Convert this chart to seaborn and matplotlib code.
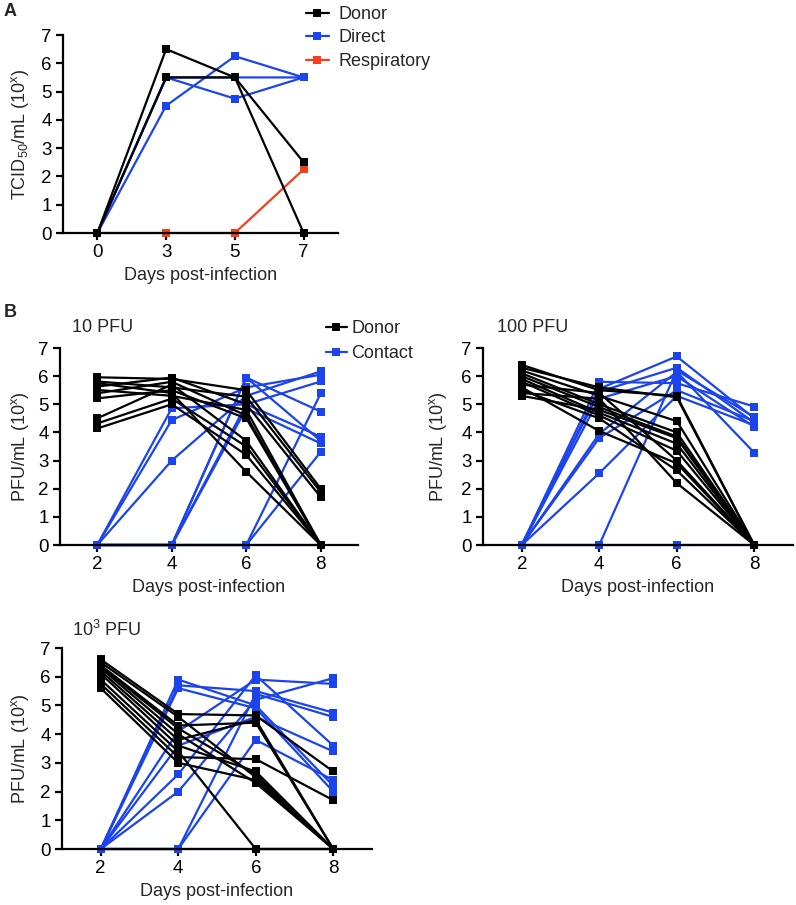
import matplotlib
matplotlib.use('Agg')
import matplotlib.pyplot as plt
import pandas as pd
import seaborn as sns
from matplotlib.lines import Line2D

# ---------------- data ----------------
a_days = ['0', '3', '5', '7']
a_donor = [[0, 6.5, 5.5, 2.5], [0, 5.5, 5.5, 0]]
a_direct = [[0, 4.5, 6.25, 5.5], [0, 5.5, 4.75, 5.5], [0, 5.5, 5.5, 5.5]]
a_resp = [[0, 0, 0, 2.25]]

b_days = [2, 4, 6, 8]

pfu10_donor = [
    [5.96, 5.9, 5.5, 2.0], [5.81, 5.6, 5.27, 1.88], [5.63, 5.95, 5.0, 1.7],
    [5.51, 5.3, 4.8, 0], [5.39, 5.8, 4.6, 0], [5.21, 5.5, 4.5, 0],
    [4.5, 5.7, 3.7, 0], [4.32, 5.2, 3.5, 0], [4.14, 5.0, 3.2, 0],
    [5.75, 5.4, 2.6, 0],
]
pfu10_contact = [
    [0, 4.86, 5.0, 3.85], [0, 4.44, 5.6, 6.05], [0, 3.0, 5.3, 6.17],
    [0, 0, 5.95, 4.74], [0, 0, 5.0, 5.81], [0, 0, 4.85, 3.61],
    [0, 0, 0, 5.39], [0, 0, 0, 3.31], [0, 0, 0, 0], [0, 0, 5.95, 3.7],
]

pfu100_donor = [
    [6.4, 5.5, 5.3, 0], [6.3, 5.6, 5.25, 0], [6.2, 5.3, 4.4, 0],
    [6.1, 5.0, 4.0, 0], [6.0, 4.9, 3.85, 0], [5.9, 4.7, 3.6, 0],
    [5.8, 4.6, 3.35, 0], [5.7, 5.4, 3.0, 0], [5.6, 4.05, 2.9, 0],
    [5.5, 4.5, 2.65, 0], [5.4, 5.2, 2.2, 0], [5.3, 4.8, 3.8, 0],
]
pfu100_contact = [
    [0, 5.8, 5.75, 4.92], [0, 5.55, 6.7, 4.5], [0, 5.45, 6.3, 4.35],
    [0, 5.2, 6.0, 4.2], [0, 3.95, 6.15, 3.28], [0, 3.8, 5.5, 4.4],
    [0, 2.55, 5.3, 4.25], [0, 0, 6.2, 4.55], [0, 0, 0, 0],
]

pfu1000_donor = [
    [6.6, 4.7, 4.65, 2.7], [6.5, 4.6, 2.5, 0], [6.4, 4.3, 4.4, 0],
    [6.3, 4.0, 2.3, 0], [6.2, 3.8, 4.5, 0], [6.1, 3.6, 2.7, 0],
    [5.9, 3.4, 0, 0], [5.75, 3.2, 3.13, 1.7], [5.6, 3.0, 2.4, 0],
    [6.35, 4.2, 2.6, 0],
]
pfu1000_contact = [
    [0, 5.9, 5.0, 2.2], [0, 5.7, 5.5, 4.75], [0, 5.6, 4.9, 2.0],
    [0, 2.6, 6.05, 3.6], [0, 2.0, 5.2, 5.95], [0, 4.1, 5.9, 5.75],
    [0, 3.6, 4.6, 3.4], [0, 0, 5.4, 4.6], [0, 0, 3.8, 2.4], [0, 0, 0, 0],
]

BLACK = '#000000'
BLUE = '#1c44ec'
RED = '#f2401c'

# ---------------- style ----------------
sns.set_theme(style='ticks')
plt.rcParams['font.family'] = ['Liberation Sans', 'DejaVu Sans']
plt.rcParams['mathtext.fontset'] = 'custom'
plt.rcParams['mathtext.rm'] = 'Liberation Sans'
plt.rcParams['mathtext.it'] = 'Liberation Sans'
plt.rcParams['mathtext.default'] = 'regular'
FS = 13
TFS = 13.5


def long_df(series, days):
    rows = []
    for i, vals in enumerate(series):
        for d, v in zip(days, vals):
            rows.append({'animal': i, 'day': d, 'val': v})
    return pd.DataFrame(rows)


def draw(ax, series, days, color):
    df = long_df(series, days)
    sns.lineplot(data=df, x='day', y='val', units='animal', estimator=None,
                 color=color, marker='s', markersize=6, markeredgewidth=0,
                 linewidth=1.6, sort=False, legend=False, ax=ax, clip_on=False)


def style_ax(ax):
    sns.despine(ax=ax)
    for s in ('left', 'bottom'):
        ax.spines[s].set_linewidth(1.6)
        ax.spines[s].set_color('black')
    ax.tick_params(axis='both', direction='out', length=5, width=1.6,
                   labelsize=TFS, colors='black', pad=3)
    ax.set_ylim(0, 7)
    ax.set_yticks(range(0, 8))


W, H = 796, 905
fig = plt.figure(figsize=(W / 100, H / 100), dpi=100)


def axes_px(left, top, right, bottom):
    return fig.add_axes([left / W, 1 - bottom / H, (right - left) / W, (bottom - top) / H])


# ---------------- panel A ----------------
axA = axes_px(63, 35, 338, 233)
draw(axA, a_direct, a_days, BLUE)
draw(axA, a_resp, a_days, RED)
draw(axA, a_donor, a_days, BLACK)
style_ax(axA)
axA.set_xlim(-0.5, 3.5)
axA.set_xlabel('Days post-infection', fontsize=FS, labelpad=4)
axA.set_ylabel('TCID$_{50}$/mL (10$^{x}$)', fontsize=FS)
axA.yaxis.set_label_coords(-0.118, 0.5)

hA = [Line2D([], [], color=c, marker='s', markersize=6, markeredgewidth=0, lw=1.6)
      for c in (BLACK, BLUE, RED)]
fig.legend(hA, ['Donor', 'Direct', 'Respiratory'], loc='upper left',
           bbox_to_anchor=(306 / W, 1 - 6 / H), frameon=False, fontsize=FS,
           handlelength=1.25, handletextpad=0.55, labelspacing=0.36,
           borderpad=0, borderaxespad=0)

# ---------------- panel B ----------------
panels = [
    ((60, 348, 358, 545), pfu10_donor, pfu10_contact, '10 PFU', (72, 328)),
    ((483, 348, 793, 545), pfu100_donor, pfu100_contact, '100 PFU', (497, 328)),
    ((62, 648, 372, 849), pfu1000_donor, pfu1000_contact, '10$^{3}$ PFU', (72, 630)),
]
axes_b = []
for (l, t, r, b), donor, contact, title, (tx, ty) in panels:
    ax = axes_px(l, t, r, b)
    draw(ax, contact, b_days, BLUE)
    draw(ax, donor, b_days, BLACK)
    style_ax(ax)
    ax.set_xlim(1, 9)
    ax.set_xticks(b_days)
    ax.set_xlabel('Days post-infection', fontsize=FS, labelpad=4)
    ax.set_ylabel('PFU/mL (10$^{x}$)', fontsize=FS)
    fig.text(tx / W, 1 - ty / H, title, fontsize=FS, ha='left', va='center')
    axes_b.append(ax)

axes_b[0].yaxis.set_label_coords(-0.097, 0.5)
axes_b[1].yaxis.set_label_coords(-0.11, 0.5)
axes_b[2].yaxis.set_label_coords(-0.1, 0.5)

hB = [Line2D([], [], color=c, marker='s', markersize=6, markeredgewidth=0, lw=1.6)
      for c in (BLACK, BLUE)]
fig.legend(hB, ['Donor', 'Contact'], loc='upper left',
           bbox_to_anchor=(326 / W, 1 - 320 / H), frameon=False, fontsize=FS,
           handlelength=1.15, handletextpad=0.25, labelspacing=0.45,
           borderpad=0, borderaxespad=0)

fig.text(4 / W, 1 - 12 / H, 'A', fontsize=FS, fontweight='bold', ha='left', va='center')
fig.text(4 / W, 1 - 312 / H, 'B', fontsize=FS, fontweight='bold', ha='left', va='center')

fig.savefig('out.png', dpi=100)
